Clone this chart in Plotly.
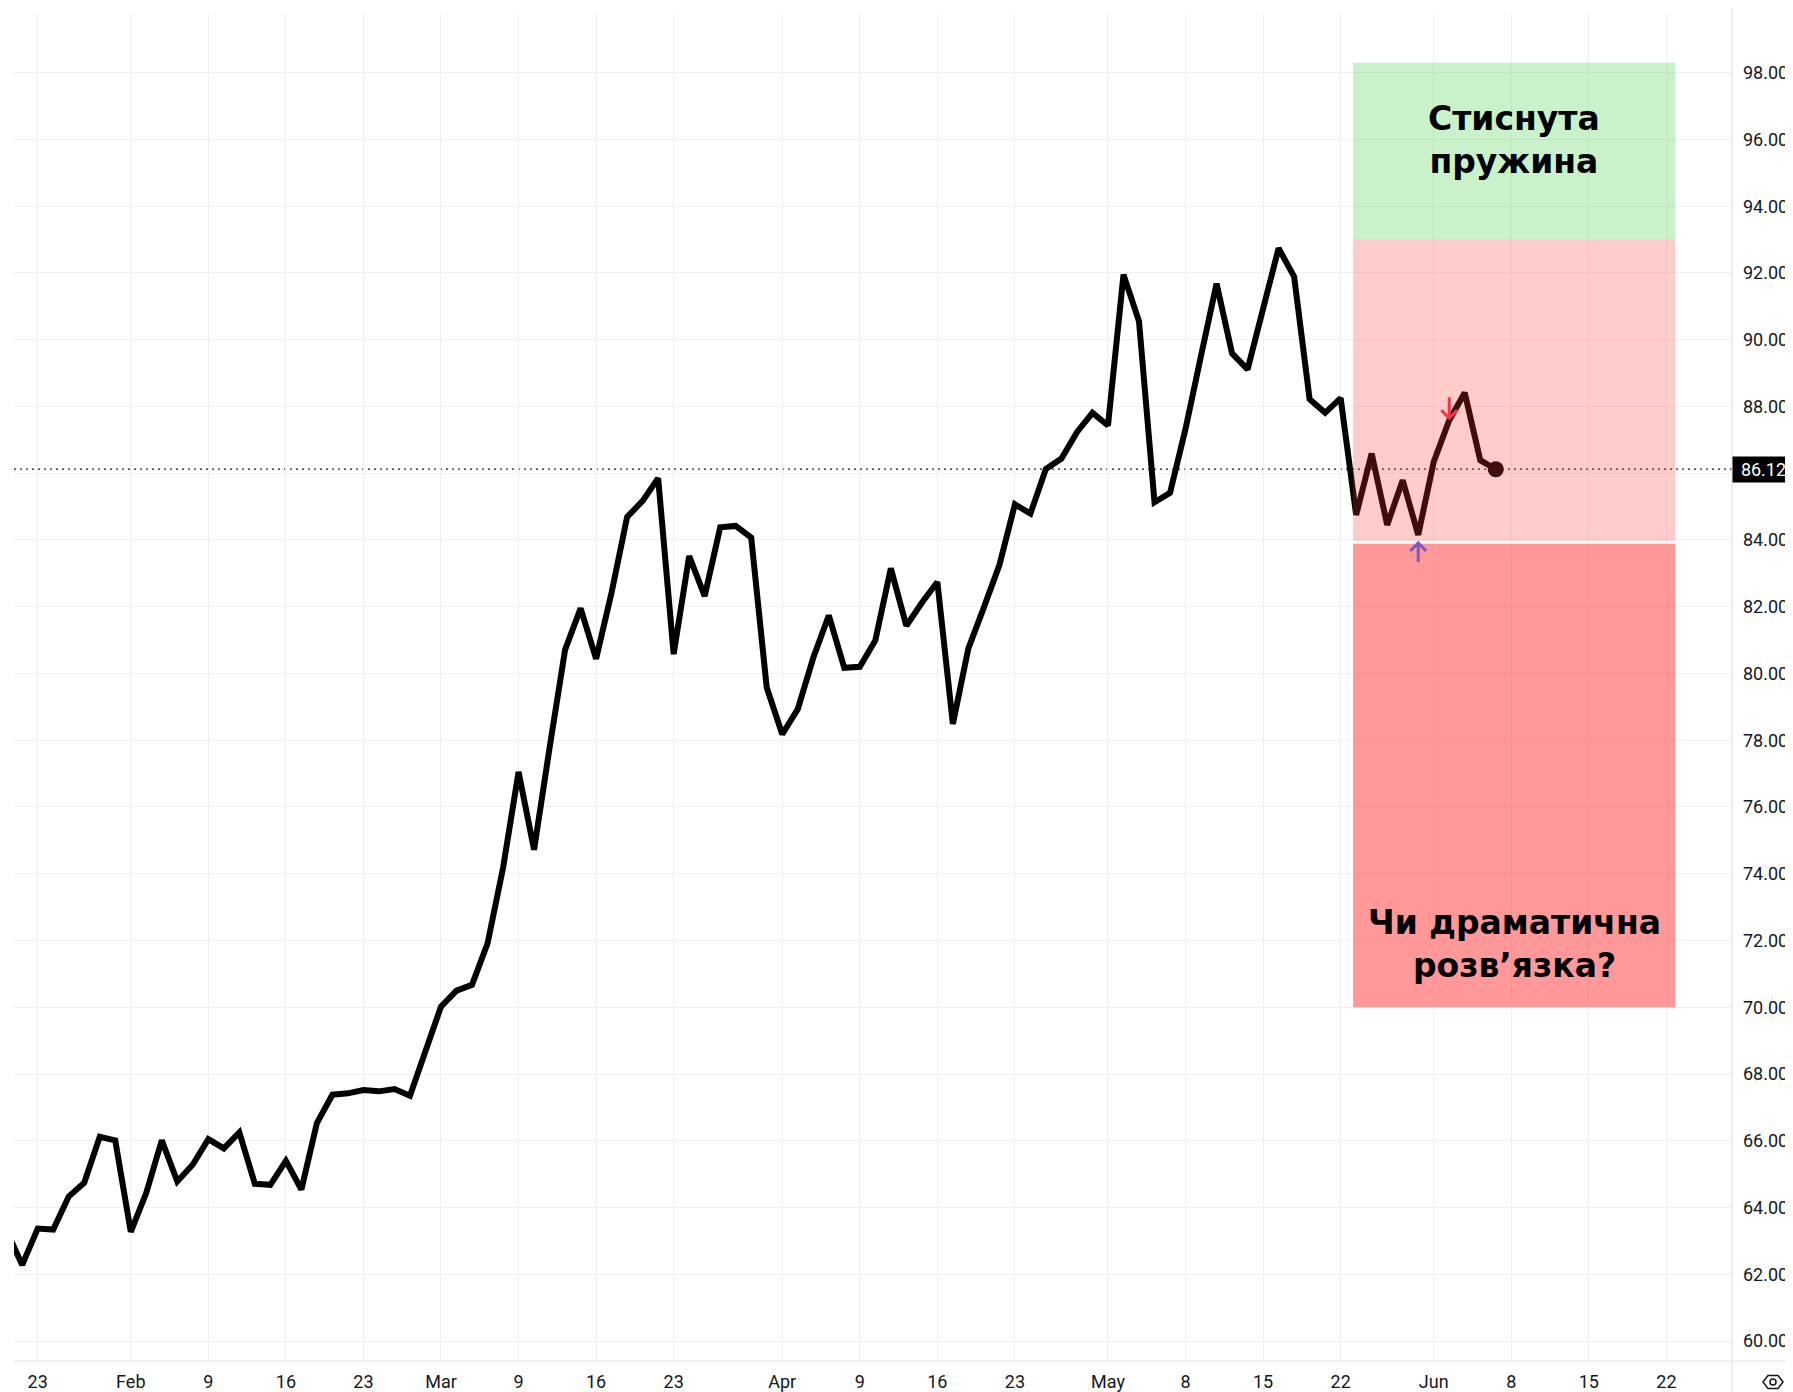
import plotly.graph_objects as go

# ---- data: trading-day index (0 = Jan 23) and closing values ----
day_index = [-2, -1, 0, 1, 2, 3, 4, 5, 6, 7, 8, 9, 10, 11, 12, 13, 14, 15, 16, 17, 18, 19,
             20, 21, 22, 23, 24, 25, 26, 27, 28, 29, 30, 31, 32, 33, 34, 35, 36, 37, 38, 39,
             40, 41, 42, 43, 44, 45, 46, 47, 48, 49, 50, 51, 52, 53, 54, 55, 56, 57, 58, 59,
             60, 61, 62, 63, 64, 65, 66, 67, 68, 69, 70, 71, 72, 73, 74, 75, 76, 77, 78, 79,
             80, 81, 82, 83, 84, 85, 86, 87, 88, 89, 90, 91, 92, 93, 94]
prices = [63.30, 62.28, 63.37, 63.34, 64.33, 64.74, 66.12, 66.01, 63.27, 64.44, 66.01, 64.78,
          65.29, 66.05, 65.77, 66.25, 64.71, 64.68, 65.40, 64.54, 66.53, 67.38, 67.42, 67.52,
          67.48, 67.55, 67.35, 68.65, 70.02, 70.50, 70.67, 71.91, 74.17, 77.05, 74.72, 77.77,
          80.71, 81.95, 80.44, 82.43, 84.69, 85.17, 85.85, 80.58, 83.52, 82.32, 84.38, 84.42,
          84.07, 79.58, 78.18, 78.93, 80.47, 81.74, 80.17, 80.20, 80.99, 83.15, 81.43, 82.12,
          82.74, 78.49, 80.75, 81.98, 83.25, 85.07, 84.79, 86.13, 86.44, 87.23, 87.81, 87.43,
          91.95, 90.55, 85.13, 85.41, 87.33, 89.52, 91.68, 89.59, 89.11, 90.93, 92.74, 91.89,
          88.22, 87.81, 88.25, 84.75, 86.59, 84.45, 85.79, 84.15, 86.34, 87.59, 88.41, 86.39,
          86.12]

tick_positions = [0, 6, 11, 16, 21, 26, 31, 36, 41, 48, 53, 58, 63, 69, 74, 79, 84, 90, 95, 100, 105]
tick_labels = ["23", "Feb", "9", "16", "23", "Mar", "9", "16", "23", "Apr", "9", "16", "23",
               "May", "8", "15", "22", "Jun", "8", "15", "22"]

y_ticks = [60, 62, 64, 66, 68, 70, 72, 74, 76, 78, 80, 82, 84, 86, 88, 90, 92, 94, 96, 98]

# zones (x in trading-day index, y in price)
zone_x = [84.8, 105.58]
green_zone = [93.01, 98.30]
light_red_zone = [83.98, 93.01]
dark_red_zone = [70.0, 83.89]

sell_signal = 91   # red arrow (points down onto the line)
buy_signal = 89    # purple arrow (points up to the trough)

last_value = prices[-1]

# The page body adds an 8px offset, so the figure covers the window from (8, 8).
W, H = 1785, 1384
ML, MR, MT, MB = 6, 61, 5, 31
PW, PH = W - ML - MR, H - MT - MB

TEXT = "#131722"
GRID = "#eef0f3"
BORDER = "#e0e3eb"
TICK_FONT = "Roboto"

fig = go.Figure()

fig.add_trace(go.Scatter(
    x=day_index, y=prices, mode="lines",
    line=dict(color="#000000", width=6, shape="linear"),
    hoverinfo="skip", showlegend=False))

fig.add_trace(go.Scatter(
    x=[day_index[-1]], y=[last_value], mode="markers",
    marker=dict(color="#000000", size=16),
    hoverinfo="skip", showlegend=False))

shapes = []
# dotted last-price line
shapes.append(dict(type="line", xref="paper", yref="y", x0=0, x1=1, y0=last_value, y1=last_value,
                   line=dict(color=TEXT, width=1.3, dash="2px,4px"), layer="between"))
# zones
shapes.append(dict(type="rect", xref="x", yref="y", x0=zone_x[0], x1=zone_x[1],
                   y0=green_zone[0], y1=green_zone[1], fillcolor="rgba(75,212,82,0.30)",
                   line=dict(width=0), layer="above"))
shapes.append(dict(type="rect", xref="x", yref="y", x0=zone_x[0], x1=zone_x[1],
                   y0=light_red_zone[0], y1=light_red_zone[1], fillcolor="rgba(255,50,50,0.25)",
                   line=dict(width=0), layer="above"))
shapes.append(dict(type="rect", xref="x", yref="y", x0=zone_x[0], x1=zone_x[1],
                   y0=dark_red_zone[0], y1=dark_red_zone[1], fillcolor="rgba(255,50,50,0.50)",
                   line=dict(width=0), layer="above"))
# signal arrows (pixel-sized glyphs anchored at data points)
sell_val = prices[day_index.index(sell_signal)]
buy_val = prices[day_index.index(buy_signal)]
shapes.append(dict(type="path", xref="x", yref="y", xsizemode="pixel", ysizemode="pixel",
                   xanchor=sell_signal, yanchor=sell_val,
                   path="M0,2 L0,23 M-8,10 L0,2 L8,10",
                   line=dict(color="#f23645", width=3), layer="above"))
shapes.append(dict(type="path", xref="x", yref="y", xsizemode="pixel", ysizemode="pixel",
                   xanchor=buy_signal, yanchor=buy_val,
                   path="M0,-8 L0,-27 M-8,-16 L0,-8 L8,-16",
                   line=dict(color="#7e57c2", width=3), layer="above"))
# chart frame lines (right price-scale border and time-scale border)
shapes.append(dict(type="line", xref="paper", yref="paper", x0=1, x1=1, y0=-MB / PH, y1=1 + MT / PH,
                   line=dict(color=BORDER, width=1.2), layer="above"))
shapes.append(dict(type="line", xref="paper", yref="paper", x0=0, x1=(W - ML) / PW, y0=0, y1=0,
                   line=dict(color=BORDER, width=1.2), layer="above"))
# settings icon (bottom-right corner)
gx = (1765 - ML) / PW
gy = -(1374 - (MT + PH)) / PH
shapes.append(dict(type="path", xref="paper", yref="paper", xsizemode="pixel", ysizemode="pixel",
                   xanchor=gx, yanchor=gy,
                   path="M-10,0 L-5,6.5 L5,6.5 L10,0 L5,-6.5 L-5,-6.5 Z",
                   line=dict(color=TEXT, width=1.5), layer="above"))
shapes.append(dict(type="circle", xref="paper", yref="paper", xsizemode="pixel", ysizemode="pixel",
                   xanchor=gx, yanchor=gy, x0=-3, x1=3, y0=-3, y1=3,
                   line=dict(color=TEXT, width=1.5), layer="above"))

zone_center = (zone_x[0] + zone_x[1]) / 2
LABEL_FONT = dict(family="DejaVu Sans", size=33, color="#000000")
annotations = [
    dict(x=zone_center, y=95.98, xref="x", yref="y", text="<b>Стиснута<br>пружина</b>",
         showarrow=False, font=LABEL_FONT,
         xanchor="center", yanchor="middle", align="center"),
    dict(x=zone_center, y=71.89, xref="x", yref="y", text="<b>Чи драматична<br>розв’язка?</b>",
         showarrow=False, font=LABEL_FONT,
         xanchor="center", yanchor="middle", align="center"),
    dict(x=1, y=last_value, xref="paper", yref="y", text=f"{last_value:.2f}",
         showarrow=False, xanchor="left", yanchor="middle", bgcolor="#000000",
         font=dict(family=TICK_FONT, size=18, color="#ffffff"), width=57, height=21, borderpad=2,
         align="center"),
]

fig.update_layout(
    width=W, height=H,
    margin=dict(l=ML, r=MR, t=MT, b=MB, autoexpand=False),
    paper_bgcolor="#ffffff", plot_bgcolor="#ffffff",
    showlegend=False,
    font=dict(family=TICK_FONT, size=18, color=TEXT),
    xaxis=dict(range=[-1.528, 109.23], tickmode="array", tickvals=tick_positions,
               ticktext=tick_labels, showgrid=True, gridcolor=GRID, gridwidth=1,
               zeroline=False, showline=False, ticks="", automargin=False,
               ticklabelstandoff=8,
               tickfont=dict(family=TICK_FONT, size=18, color=TEXT)),
    yaxis=dict(range=[59.401, 99.789], side="right", tickmode="array", tickvals=y_ticks,
               ticktext=["" if v == 86 else f"{v:.2f}" for v in y_ticks],
               showgrid=True, gridcolor=GRID, gridwidth=1, zeroline=False, showline=False,
               ticks="", ticklabelstandoff=10, automargin=False,
               tickfont=dict(family=TICK_FONT, size=18, color=TEXT)),
    shapes=shapes, annotations=annotations,
)

fig.write_html("out.html")
